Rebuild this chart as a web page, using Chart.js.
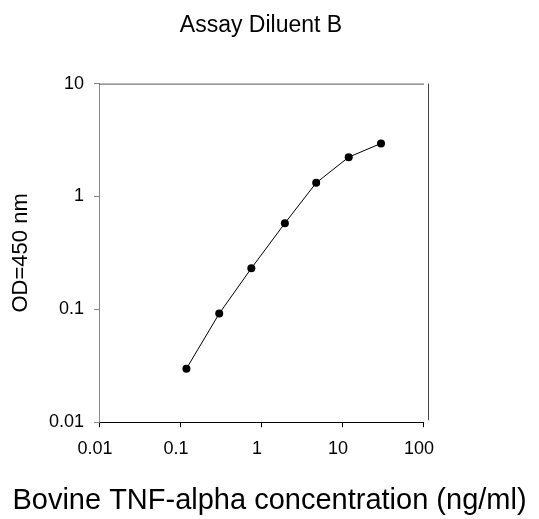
<!DOCTYPE html>
<html>
<head>
<meta charset="utf-8">
<script src="https://cdn.jsdelivr.net/npm/chart.js@4.4.1/dist/chart.umd.min.js"></script>
<style>
  body { margin: 0; background: #fff; }
  #wrap { width: 539px; height: 519px; }
</style>
</head>
<body>
<div id="wrap"><canvas id="myChart"></canvas></div>
<script>
// concentration (ng/ml) and OD readings
var conc = [0.12, 0.305, 0.76, 1.97, 4.8, 12.1, 30.3];
var od = [0.0298, 0.0917, 0.231, 0.579, 1.32, 2.23, 2.95];
var xTicks = [0.01, 0.1, 1, 10, 100];
var xTickLabels = ['0.01', '0.1', '1', '10', '100'];
var yTicks = [0.01, 0.1, 1, 10];
var yTickLabels = ['0.01', '0.1', '1', '10'];

var FONT = 'Liberation Sans, Arial, sans-serif';

// top edge and the detached right edge of the plot box
var frame = {
    id: 'frame',
    afterDraw: function (chart) {
        var a = chart.chartArea;
        var ctx = chart.ctx;
        ctx.save();
        ctx.lineWidth = 1;
        ctx.strokeStyle = '#555';
        ctx.beginPath();
        ctx.moveTo(a.left, a.top + 0.5);
        ctx.lineTo(a.right + 1, a.top + 0.5);
        ctx.stroke();
        ctx.strokeStyle = '#444';
        ctx.beginPath();
        ctx.moveTo(a.right + 5.5, a.top);
        ctx.lineTo(a.right + 5.5, a.bottom - 2);
        ctx.stroke();
        ctx.restore();
    }
};

var ctx = document.getElementById('myChart').getContext('2d');
var chartObj = new Chart(ctx, {
    type: 'scatter',
    data: {
        datasets: [{
            data: conc.map(function (c, i) { return {x: c, y: od[i]}; }),
            showLine: true,
            borderColor: '#000',
            borderWidth: 1,
            backgroundColor: '#000',
            pointRadius: 4,
            pointBorderWidth: 0,
            pointBackgroundColor: '#000',
            tension: 0
        }]
    },
    options: {
        responsive: true,
        maintainAspectRatio: false,
        animation: false,
        layout: {padding: 0},
        plugins: {
            legend: {display: false},
            tooltip: {enabled: false},
            title: {
                display: true,
                text: 'Assay Diluent B',
                fullSize: false,
                color: '#000',
                font: {family: FONT, size: 23, weight: 'normal'},
                padding: {top: 12, bottom: 44}
            },
            subtitle: {
                display: true,
                position: 'bottom',
                text: 'Bovine TNF-alpha concentration (ng/ml)',
                color: '#000',
                font: {family: FONT, size: 29, weight: 'normal'},
                padding: {top: 0, bottom: 1}
            }
        },
        scales: {
            x: {
                type: 'logarithmic',
                position: 'bottom',
                min: 0.01,
                max: 100,
                afterBuildTicks: function (scale) {
                    scale.ticks = xTicks.map(function (v) { return {value: v}; });
                },
                afterFit: function (scale) { scale.height = 61; },
                grid: {drawOnChartArea: false, drawTicks: true, tickLength: 5, tickColor: '#000'},
                border: {color: '#000', width: 1},
                ticks: {
                    color: '#000',
                    font: {family: FONT, size: 18},
                    padding: 11,
                    labelOffset: -4,
                    maxRotation: 0,
                    autoSkip: false,
                    callback: function (v) {
                        var i = xTicks.indexOf(v);
                        return i >= 0 ? xTickLabels[i] : '';
                    }
                }
            },
            y: {
                type: 'logarithmic',
                position: 'left',
                min: 0.01,
                max: 10,
                afterBuildTicks: function (scale) {
                    scale.ticks = yTicks.map(function (v) { return {value: v}; });
                },
                afterFit: function (scale) { scale.width = 99; },
                grid: {drawOnChartArea: false, drawTicks: true, tickLength: 5, tickColor: '#888'},
                border: {color: '#888', width: 1},
                title: {
                    display: true,
                    text: 'OD=450 nm',
                    color: '#000',
                    font: {family: FONT, size: 22},
                    padding: {top: 8, bottom: 0}
                },
                ticks: {
                    color: '#000',
                    font: {family: FONT, size: 18},
                    padding: 10,
                    autoSkip: false,
                    callback: function (v) {
                        var i = yTicks.indexOf(v);
                        return i >= 0 ? yTickLabels[i] : '';
                    }
                }
            },
            // empty right-hand margin
            yRight: {
                position: 'right',
                afterFit: function (scale) { scale.width = 116; },
                grid: {display: false},
                border: {display: false},
                ticks: {display: false}
            }
        }
    },
    plugins: [frame]
});
</script>
</body>
</html>
